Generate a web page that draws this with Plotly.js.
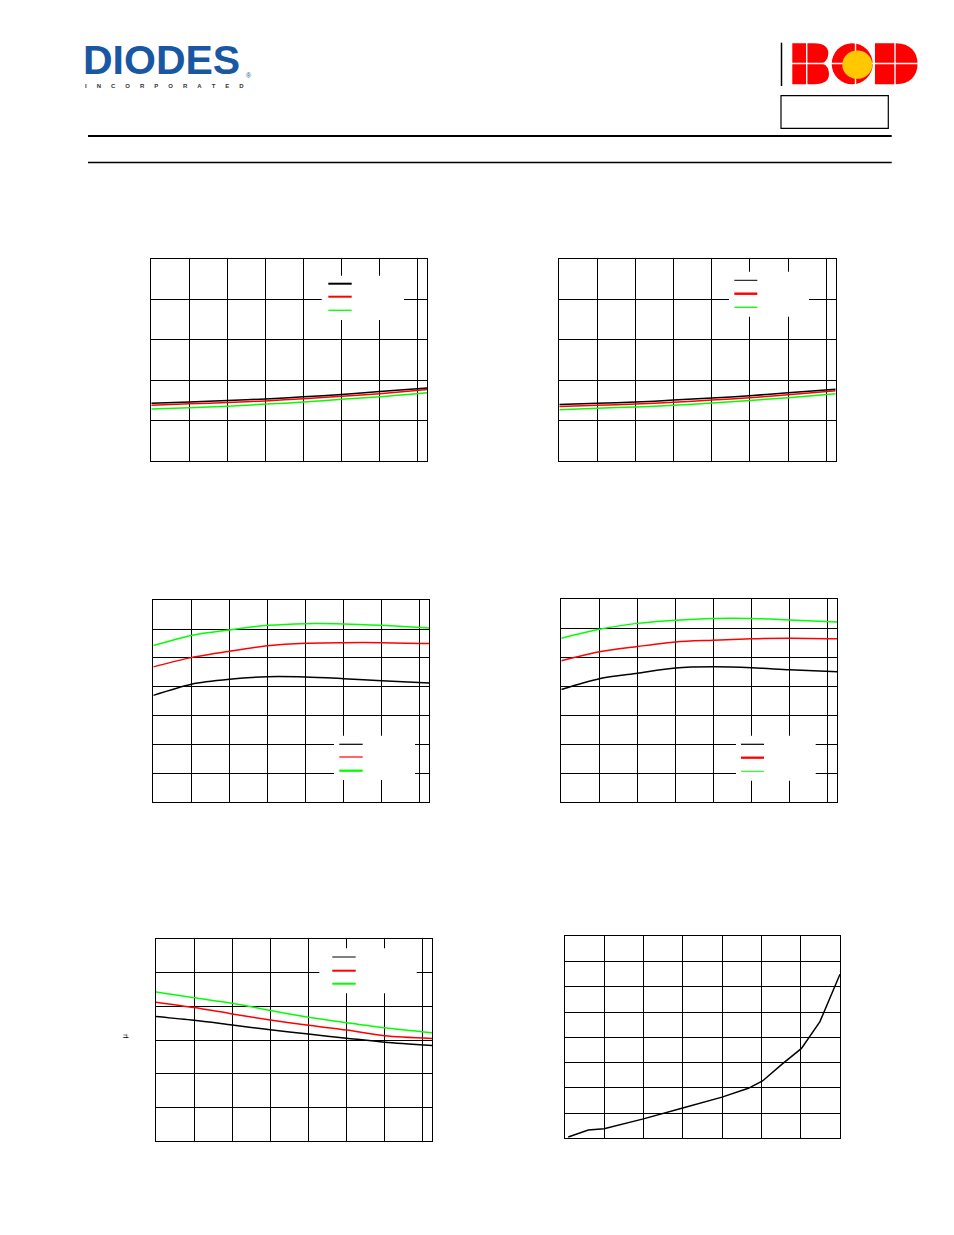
<!DOCTYPE html>
<html>
<head>
<meta charset="utf-8">
<script src="https://cdn.plot.ly/plotly-3.0.1.min.js"></script>
<style>html,body{margin:0;padding:0;background:#fff;}#chart{width:954px;height:1235px;}</style>
</head>
<body>
<div id="chart"></div>
<script>
// ---------- data ----------
const xTemp = [-40, -20, 0, 20, 40, 60, 80, 105];

const c1Black = [1.43, 1.46, 1.50, 1.54, 1.59, 1.65, 1.72, 1.81];
const c1Red   = [1.385, 1.42, 1.45, 1.49, 1.545, 1.605, 1.67, 1.77];
const c1Green = [1.29, 1.32, 1.36, 1.41, 1.46, 1.53, 1.59, 1.69];

const c2Black = [1.40, 1.43, 1.46, 1.51, 1.56, 1.62, 1.69, 1.78];
const c2Red   = [1.35, 1.38, 1.415, 1.455, 1.51, 1.57, 1.64, 1.74];
const c2Green = [1.27, 1.31, 1.34, 1.38, 1.44, 1.50, 1.57, 1.67];

const c3Black = [3.70, 4.09, 4.26, 4.35, 4.34, 4.28, 4.21, 4.13];
const c3Red   = [4.69, 5.01, 5.23, 5.42, 5.51, 5.53, 5.53, 5.50];
const c3Green = [5.43, 5.78, 5.97, 6.13, 6.19, 6.18, 6.13, 6.04];

const c4Black = [3.89, 4.26, 4.45, 4.63, 4.67, 4.64, 4.57, 4.50];
const c4Red   = [4.88, 5.19, 5.37, 5.53, 5.59, 5.64, 5.66, 5.64];
const c4Green = [5.66, 5.97, 6.17, 6.28, 6.34, 6.34, 6.29, 6.22];

const c5Black = [3.70, 3.59, 3.45, 3.31, 3.18, 3.06, 2.94, 2.84];
const c5Red   = [4.13, 3.97, 3.78, 3.60, 3.44, 3.30, 3.13, 3.05];
const c5Green = [4.43, 4.26, 4.10, 3.88, 3.68, 3.52, 3.37, 3.22];

const c6X = [0.09, 0.6, 1.0, 2.0, 3.0, 4.0, 4.67, 5.03, 5.52, 6.02, 6.49, 7.0];
const c6Y = [0.05, 0.33, 0.38, 0.77, 1.20, 1.63, 1.98, 2.27, 2.93, 3.56, 4.62, 6.50];

const logoText = "DIODES";
const logoSub = "INCORPORATED";
const yTitleGlyph = "μ";

// ---------- helpers ----------
const W = 954, H = 1235;
const PX = x => x / W;
const PY = y => 1 - y / H;
const p = (x, y) => PX(x).toFixed(5) + "," + PY(y).toFixed(5);

function xa(x0, x1, range, dtick, tick0, anchor) {
  return {domain: [PX(x0), PX(x1)], range: range, tickmode: 'linear', dtick: dtick, tick0: tick0,
    showgrid: true, gridcolor: '#000', gridwidth: 1, showline: true, linecolor: '#000', linewidth: 1,
    mirror: true, zeroline: false, showticklabels: false, ticks: '', anchor: anchor, fixedrange: true};
}
function ya(y0, y1, range, dtick, anchor) {
  return {domain: [PY(y1), PY(y0)], range: range, tickmode: 'linear', dtick: dtick, tick0: 0,
    showgrid: true, gridcolor: '#000', gridwidth: 1, showline: true, linecolor: '#000', linewidth: 1,
    mirror: true, zeroline: false, showticklabels: false, ticks: '', anchor: anchor, fixedrange: true};
}
function tr(x, y, color, n, width) {
  const s = n === 1 ? '' : String(n);
  return {x: x, y: y, type: 'scatter', mode: 'lines', xaxis: 'x' + s, yaxis: 'y' + s,
    line: {color: color, width: width || 1.5, shape: 'spline', smoothing: 0.8}, hoverinfo: 'skip'};
}

const BLK = '#000000', RED = '#ff0000', GRN = '#00ff00';

const data = [
  tr(xTemp, c1Green, GRN, 1), tr(xTemp, c1Red, RED, 1), tr(xTemp, c1Black, BLK, 1),
  tr(xTemp, c2Green, GRN, 2), tr(xTemp, c2Red, RED, 2), tr(xTemp, c2Black, BLK, 2),
  tr(xTemp, c3Green, GRN, 3), tr(xTemp, c3Red, RED, 3), tr(xTemp, c3Black, BLK, 3),
  tr(xTemp, c4Green, GRN, 4), tr(xTemp, c4Red, RED, 4), tr(xTemp, c4Black, BLK, 4),
  tr(xTemp, c5Green, GRN, 5), tr(xTemp, c5Red, RED, 5), tr(xTemp, c5Black, BLK, 5),
  {x: c6X, y: c6Y, type: 'scatter', mode: 'lines', xaxis: 'x6', yaxis: 'y6',
   line: {color: BLK, width: 1.5}, hoverinfo: 'skip'}
];

// ---------- shapes ----------
const shapes = [];
function hline(y, x0, x1, w, c) {
  shapes.push({type: 'line', xref: 'paper', yref: 'paper', x0: PX(x0), x1: PX(x1), y0: PY(y), y1: PY(y),
    line: {color: c || '#000', width: w}, layer: 'above'});
}
function vline(x, y0, y1, w, c) {
  shapes.push({type: 'line', xref: 'paper', yref: 'paper', x0: PX(x), x1: PX(x), y0: PY(y0), y1: PY(y1),
    line: {color: c || '#000', width: w}, layer: 'above'});
}
function rect(x0, y0, x1, y1, fill, lineColor, lw) {
  shapes.push({type: 'rect', xref: 'paper', yref: 'paper', x0: PX(x0), x1: PX(x1), y0: PY(y1), y1: PY(y0),
    fillcolor: fill, line: {color: lineColor || 'rgba(0,0,0,0)', width: lw || 0}, layer: 'above'});
}
// header rules
hline(136, 88, 891.7, 2.2);
hline(162.5, 88, 891.7, 1.6);
// header box + bar
rect(781, 95.7, 888.3, 128.3, 'rgba(0,0,0,0)', '#000', 1.2);
vline(781.5, 42.7, 86, 1.5);

// BCD logo
shapes.push({type: 'path', xref: 'paper', yref: 'paper', fillcolor: RED, line: {width: 0}, layer: 'above',
  path: `M${p(792.3,43.3)} L${p(814,43.3)} C${p(825,43.3)} ${p(828.3,48)} ${p(828.3,53)} C${p(828.3,58)} ${p(826,62)} ${p(822,63.5)} C${p(827,65)} ${p(829,69)} ${p(829,74)} C${p(829,80)} ${p(825,84.3)} ${p(814,84.3)} L${p(792.3,84.3)} Z`});
shapes.push({type: 'circle', xref: 'paper', yref: 'paper', x0: PX(831.7), x1: PX(872.7), y0: PY(84.3), y1: PY(43.3),
  fillcolor: RED, line: {width: 0}, layer: 'above'});
shapes.push({type: 'path', xref: 'paper', yref: 'paper', fillcolor: RED, line: {width: 0}, layer: 'above',
  path: `M${p(875,43.3)} L${p(896,43.3)} C${p(910,43.3)} ${p(917.5,52)} ${p(917.5,63.8)} C${p(917.5,76)} ${p(910,84.3)} ${p(896,84.3)} L${p(875,84.3)} Z`});
hline(63.5, 791, 919, 1.4, '#fff');
vline(806.7, 42, 86, 1.4, '#fff');
vline(855.5, 42, 86, 1.4, '#fff');
vline(895, 42, 86, 1.4, '#fff');
shapes.push({type: 'circle', xref: 'paper', yref: 'paper', x0: PX(842.3), x1: PX(872.3), y0: PY(78.8), y1: PY(50.5),
  fillcolor: '#ffc800', line: {width: 0}, layer: 'above'});

// legend boxes (white patches with line samples, text-free as in the reference)
function legend(x0, y0, x1, y1, sx0, sx1, rows) {
  rect(x0, y0, x1, y1, '#ffffff', null, 0);
  rows.forEach(r => hline(r[0], sx0, sx1, r[2], r[1]));
}
legend(321.7, 275.7, 404, 320, 328.3, 351.7, [[283.7, BLK, 2], [296.7, RED, 2], [310.3, GRN, 1.3]]);
legend(729, 271.7, 809, 316.7, 734.3, 757.3, [[280.3, BLK, 1], [293.7, RED, 2.4], [307.3, GRN, 1.3]]);
legend(334, 735.7, 415, 780, 339.3, 362.7, [[744.3, BLK, 1.2], [757, RED, 1.2], [770.7, GRN, 2.3]]);
legend(736, 735.7, 815.7, 780.7, 741, 764, [[744.3, BLK, 1.2], [757.7, RED, 2.3], [771.3, GRN, 1]]);
legend(319.3, 948.3, 416.7, 993.3, 332.3, 355.7, [[957, BLK, 1], [970.7, RED, 2], [983.7, GRN, 2]]);

// ---------- annotations ----------
const annotations = [];
annotations.push({xref: 'paper', yref: 'paper', x: PX(82), y: PY(60), xanchor: 'left', yanchor: 'middle',
  text: '<b>' + logoText + '</b>', showarrow: false, borderpad: 0,
  font: {family: 'Liberation Sans, Arial, sans-serif', size: 41, color: '#1a57a3'}});
annotations.push({xref: 'paper', yref: 'paper', x: PX(249), y: PY(75), xanchor: 'center', yanchor: 'middle',
  text: '®', showarrow: false, borderpad: 0, font: {family: 'Liberation Sans, Arial, sans-serif', size: 7, color: '#1a57a3'}});
const gap = '\u00a0'.repeat(6);
annotations.push({xref: 'paper', yref: 'paper', x: PX(164.5), y: PY(86), xanchor: 'center', yanchor: 'middle',
  text: '<b>' + logoSub.split('').join(gap) + '</b>', showarrow: false, borderpad: 0,
  font: {family: 'Liberation Sans, Arial, sans-serif', size: 6, color: '#333'}});
annotations.push({xref: 'paper', yref: 'paper', x: PX(124), y: PY(1035.5), xanchor: 'center', yanchor: 'middle',
  text: yTitleGlyph, textangle: -90, showarrow: false, font: {family: 'DejaVu Sans, sans-serif', size: 7, color: '#000'}});

// ---------- layout ----------
const xr = [-40, 105];
const layout = {
  width: W, height: H, margin: {l: 0, r: 0, t: 0, b: 0}, paper_bgcolor: '#fff', plot_bgcolor: '#fff',
  showlegend: false,
  xaxis:  xa(151.3, 427.3, xr, 20, -40, 'y'),
  yaxis:  ya(259.3, 461, [0, 5], 1, 'x'),
  xaxis2: xa(559.3, 835.7, xr, 20, -40, 'y2'),
  yaxis2: ya(259.3, 461, [0, 5], 1, 'x2'),
  xaxis3: xa(153.3, 429.3, xr, 20, -40, 'y3'),
  yaxis3: ya(600.3, 802, [0, 7], 1, 'x3'),
  xaxis4: xa(561.3, 837.3, xr, 20, -40, 'y4'),
  yaxis4: ya(599.3, 802.3, [0, 7], 1, 'x4'),
  xaxis5: xa(156, 432.3, xr, 20, -40, 'y5'),
  yaxis5: ya(939.3, 1141, [0, 6], 1, 'x5'),
  xaxis6: xa(564.7, 840, [0, 7], 1, 0, 'y6'),
  yaxis6: ya(936.3, 1138.3, [0, 8], 1, 'x6'),
  shapes: shapes,
  annotations: annotations
};
Plotly.newPlot('chart', data, layout, {staticPlot: true, displayModeBar: false});
</script>
</body>
</html>
